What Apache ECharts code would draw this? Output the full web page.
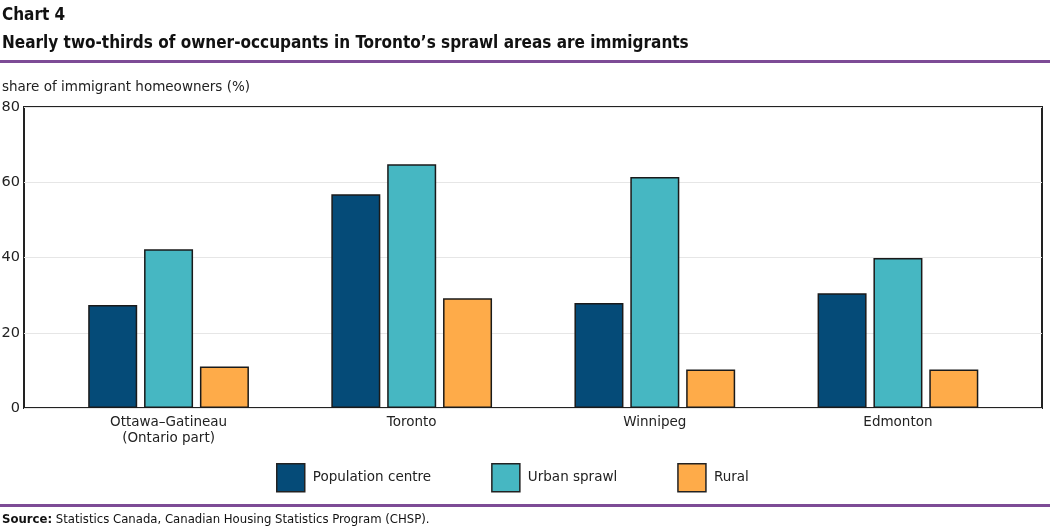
<!DOCTYPE html>
<html>
<head>
<meta charset="utf-8">
<script src="https://cdn.jsdelivr.net/npm/echarts@6/dist/echarts.min.js"></script>
<style>
  html, body { margin: 0; padding: 0; background: #fff; }
  #main { width: 1050px; height: 531px; }
</style>
</head>
<body>
<div id="main"></div>
<script>
// data
var cities = ['Ottawa\u2013Gatineau\n(Ontario part)', 'Toronto', 'Winnipeg', 'Edmonton'];
var popCentre = [27.4, 56.8, 27.9, 30.5];
var urbanSprawl = [42.2, 64.8, 61.4, 39.9];
var rural = [11.0, 29.2, 10.2, 10.2];
var yTicks = [0, 20, 40, 60, 80];

var myChart = echarts.init(document.getElementById('main'));

var barBorder = { borderColor: '#1a1a1a', borderWidth: 1.5 };
var titleFont = '"Liberation Sans Narrow", "DejaVu Sans Condensed", Arial, sans-serif';
var bodyFont = '"DejaVu Sans", Verdana, sans-serif';

var option = {
  animation: false,
  textStyle: { fontFamily: bodyFont },
  grid: [
    // outer frame + gridlines
    { left: 24, right: 8, top: 107, bottom: 123, outerBoundsMode: 'none', containLabel: false,
      show: true, borderColor: '#222', borderWidth: 2, backgroundColor: 'transparent' },
    // bars
    { left: 47, right: 30.5, top: 107, bottom: 123, outerBoundsMode: 'none', containLabel: false }
  ],
  xAxis: [
    { gridIndex: 0, type: 'category', data: [''], show: false },
    {
      gridIndex: 1, type: 'category', data: cities,
      axisLine: { show: false }, axisTick: { show: false },
      axisLabel: { color: '#222', fontSize: 13.5, margin: 6, lineHeight: 16, fontFamily: bodyFont }
    }
  ],
  yAxis: [
    {
      gridIndex: 0, type: 'value', min: yTicks[0], max: yTicks[yTicks.length - 1], interval: 20,
      axisLine: { show: false }, axisTick: { show: false },
      axisLabel: { color: '#222', fontSize: 14.5, margin: 4, fontFamily: bodyFont },
      splitLine: { lineStyle: { color: '#e6e6e6', width: 1 } }
    },
    {
      gridIndex: 1, type: 'value', min: 0, max: 80, interval: 20, show: false,
      splitLine: { show: false }
    }
  ],
  legend: {
    left: 276, top: 463, icon: 'rect', padding: 0,
    itemWidth: 28, itemHeight: 28, itemGap: 60,
    itemStyle: { borderColor: '#222', borderWidth: 1.5 },
    textStyle: { fontSize: 13.5, color: '#222', padding: [0, 0, 0, 3], fontFamily: bodyFont },
    data: ['Population centre', 'Urban sprawl', 'Rural']
  },
  series: [
    { name: 'Population centre', type: 'bar', xAxisIndex: 1, yAxisIndex: 1, data: popCentre, barWidth: 49, barGap: '14%',
      itemStyle: Object.assign({ color: '#054b78' }, barBorder) },
    { name: 'Urban sprawl', type: 'bar', xAxisIndex: 1, yAxisIndex: 1, data: urbanSprawl, barWidth: 49, barGap: '14%',
      itemStyle: Object.assign({ color: '#46b7c2' }, barBorder) },
    { name: 'Rural', type: 'bar', xAxisIndex: 1, yAxisIndex: 1, data: rural, barWidth: 49, barGap: '14%',
      itemStyle: Object.assign({ color: '#feab49' }, barBorder) }
  ],
  graphic: [
    { type: 'text', left: 2, top: 7, style: { text: 'Chart 4', font: 'bold 17px ' + titleFont, fill: '#111' } },
    { type: 'text', left: 2, top: 35, style: { text: 'Nearly two-thirds of owner-occupants in Toronto\u2019s sprawl areas are immigrants', font: 'bold 17px ' + titleFont, fill: '#111' } },
    { type: 'rect', left: 0, top: 60, shape: { width: 1050, height: 3 }, style: { fill: '#7d4b96' } },
    { type: 'text', left: 2, top: 80, style: { text: 'share of immigrant homeowners (%)', font: '13.5px ' + bodyFont, fill: '#222' } },
    { type: 'rect', left: 0, top: 504, shape: { width: 1050, height: 3 }, style: { fill: '#7d4b96' } },
    { type: 'text', left: 2, top: 513, style: {
        text: '{b|Source:} Statistics Canada, Canadian Housing Statistics Program (CHSP).',
        rich: { b: { fontWeight: 'bold', fontSize: 13, fontFamily: titleFont, fill: '#111' } },
        font: '13px ' + titleFont, fill: '#111' } }
  ]
};

myChart.setOption(option);
</script>
</body>
</html>
